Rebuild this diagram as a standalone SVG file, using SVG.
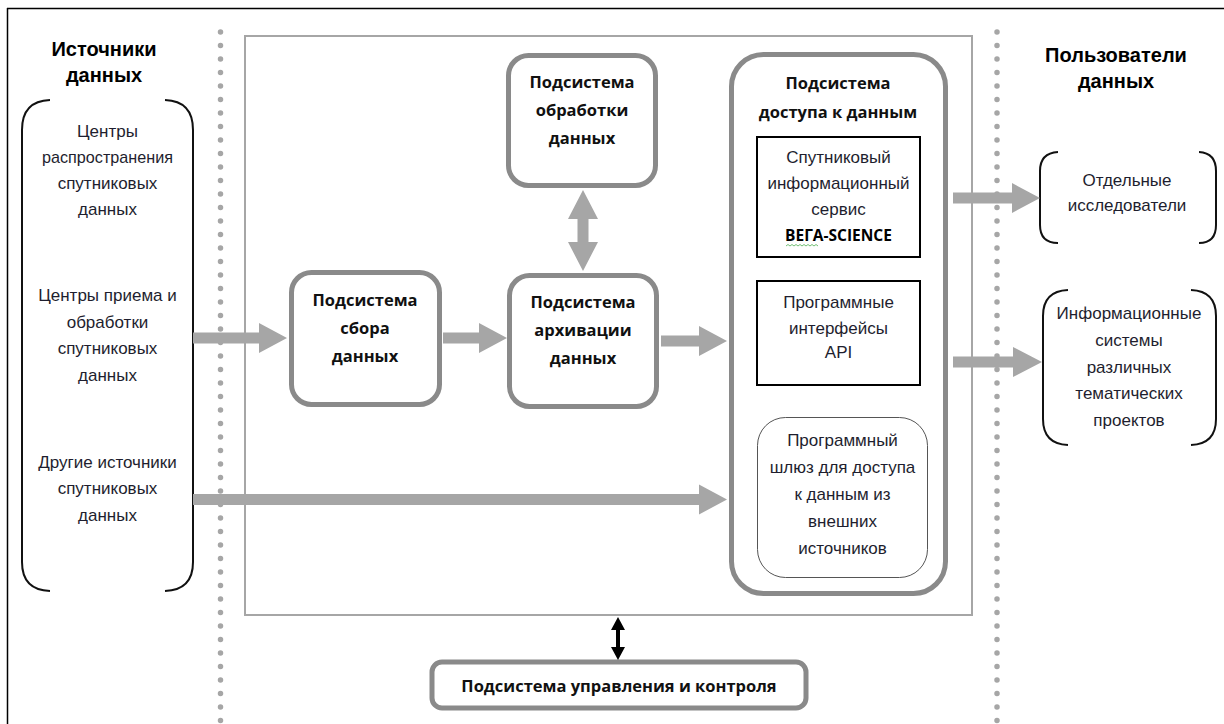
<svg xmlns="http://www.w3.org/2000/svg" width="1224" height="724" viewBox="0 0 1224 724">
<defs>
<style>
.reg{font-family:"Liberation Sans",Arial,sans-serif;font-size:17px;fill:#1e1e2e;text-anchor:middle}
.hd{font-family:"Liberation Sans",Arial,sans-serif;font-size:20px;font-weight:bold;fill:#000;text-anchor:middle}
.bx{font-family:"Open Sans","DejaVu Sans",sans-serif;font-size:16.5px;font-weight:bold;fill:#111;text-anchor:middle}
.sub{fill:#fff;stroke:#8a8a8a;stroke-width:5}
.brk{fill:none;stroke:#111;stroke-width:2}
.arr{fill:#a6a6a6}
.dot{fill:none;stroke:#a6a6a6;stroke-width:5.5;stroke-linecap:round;stroke-dasharray:0 13.5}
</style>
</defs>
<rect width="1224" height="724" fill="#fff"/>
<g id="frame">
<line x1="7.5" y1="8" x2="7.5" y2="724" stroke="#000" stroke-width="1.5"/>
<line x1="7" y1="8.5" x2="1224" y2="8.5" stroke="#000" stroke-width="1.5"/>
</g>
<g id="separators">
<line class="dot" x1="220.5" y1="32" x2="220.5" y2="724"/>
<line class="dot" x1="997" y1="32" x2="997" y2="724"/>
</g>
<g id="system-frame">
<rect x="245" y="36" width="727" height="579" fill="none" stroke="#a6a6a6" stroke-width="2"/>
</g>
<g id="sources">
<text class="hd" x="104" y="56">Источники</text>
<text class="hd" x="104" y="82">данных</text>
<path class="brk" d="M50,100 Q22,101 22,130 L22,562 Q22,590 50,591"/>
<path class="brk" d="M165,100 Q193,101 193,130 L193,562 Q193,590 165,591"/>
<text class="reg" x="107.5" y="137">Центры</text>
<text class="reg" x="107.5" y="163" textLength="131" lengthAdjust="spacingAndGlyphs">распространения</text>
<text class="reg" x="107.5" y="189">спутниковых</text>
<text class="reg" x="107.5" y="215">данных</text>
<text class="reg" x="107.5" y="301">Центры приема и</text>
<text class="reg" x="107.5" y="328">обработки</text>
<text class="reg" x="107.5" y="354">спутниковых</text>
<text class="reg" x="107.5" y="381">данных</text>
<text class="reg" x="107.5" y="468">Другие источники</text>
<text class="reg" x="107.5" y="494">спутниковых</text>
<text class="reg" x="107.5" y="521">данных</text>
</g>
<g id="processing">
<rect class="sub" x="508.5" y="55.5" width="147" height="130" rx="20"/>
<text class="bx" x="582" y="88">Подсистема</text>
<text class="bx" x="582" y="116">обработки</text>
<text class="bx" x="582" y="144">данных</text>
</g>
<g id="collection">
<rect class="sub" x="291.5" y="272.5" width="148" height="132" rx="20"/>
<text class="bx" x="365" y="306">Подсистема</text>
<text class="bx" x="365" y="334">сбора</text>
<text class="bx" x="365" y="362">данных</text>
</g>
<g id="archive">
<rect class="sub" x="509.5" y="275.5" width="147" height="131" rx="20"/>
<text class="bx" x="583" y="308">Подсистема</text>
<text class="bx" x="583" y="336">архивации</text>
<text class="bx" x="583" y="364">данных</text>
</g>
<g id="access">
<rect class="sub" x="731.5" y="54.5" width="214" height="539" rx="32"/>
<text class="bx" x="838" y="89">Подсистема</text>
<text class="bx" x="838" y="118">доступа к данным</text>
</g>
<g id="sputnik-service">
<rect x="757" y="137" width="163" height="120" fill="#fff" stroke="#000" stroke-width="2"/>
<text class="reg" x="838.5" y="163">Спутниковый</text>
<text class="reg" x="838.5" y="189">информационный</text>
<text class="reg" x="838.5" y="215">сервис</text>
<text x="838.5" y="241" font-family="'Open Sans','DejaVu Sans',sans-serif" font-size="15.5" font-weight="bold" fill="#000" text-anchor="middle">ВЕГА-SCIENCE</text>
<path d="M786,246 l2,-1.5 l2,1.5 l2,-1.5 l2,1.5 l2,-1.5 l2,1.5 l2,-1.5 l2,1.5 l2,-1.5 l2,1.5 l2,-1.5 l2,1.5 l2,-1.5 l2,1.5 l2,-1.5 l2,1.5" fill="none" stroke="#4caf50" stroke-width="0.8"/>
</g>
<g id="api">
<rect x="757" y="281" width="163" height="104" fill="#fff" stroke="#000" stroke-width="2"/>
<text class="reg" x="838.5" y="308">Программные</text>
<text class="reg" x="838.5" y="334">интерфейсы</text>
<text class="reg" x="838.5" y="358">API</text>
</g>
<g id="gateway">
<rect x="757.5" y="417.5" width="170" height="160" rx="28" fill="#fff" stroke="#555" stroke-width="1"/>
<text class="reg" x="842.5" y="446">Программный</text>
<text class="reg" x="842.5" y="473">шлюз для доступа</text>
<text class="reg" x="842.5" y="500">к данным из</text>
<text class="reg" x="842.5" y="527">внешних</text>
<text class="reg" x="842.5" y="554">источников</text>
</g>
<g id="users">
<text class="hd" x="1116" y="62">Пользователи</text>
<text class="hd" x="1116" y="88">данных</text>
</g>
<g id="researchers">
<path class="brk" d="M1058,152 Q1040,153 1040,171 L1040,225 Q1040,243 1058,243"/>
<path class="brk" d="M1199,152 Q1216,153 1216,171 L1216,225 Q1216,243 1199,243"/>
<text class="reg" x="1127" y="186">Отдельные</text>
<text class="reg" x="1127" y="211">исследователи</text>
</g>
<g id="info-systems">
<path class="brk" d="M1068,290 Q1043,291 1043,316 L1043,419 Q1043,444 1068,445"/>
<path class="brk" d="M1191,290 Q1216,291 1216,316 L1216,419 Q1216,444 1191,445"/>
<text class="reg" x="1129" y="319">Информационные</text>
<text class="reg" x="1129" y="346">системы</text>
<text class="reg" x="1129" y="373">различных</text>
<text class="reg" x="1129" y="399">тематических</text>
<text class="reg" x="1129" y="426">проектов</text>
</g>
<g id="control">
<rect class="sub" x="432" y="662" width="374" height="46" rx="10" stroke-width="4.5"/>
<text class="bx" x="619" y="692" font-size="16.2">Подсистема управления и контроля</text>
</g>
<g id="connectors">
<polygon class="arr" points="193,332.5 259,332.5 259,323 287,338 259,353 259,343.5 193,343.5"/>
<polygon class="arr" points="443,332.5 479,332.5 479,323 507,338 479,353 479,343.5 443,343.5"/>
<polygon class="arr" points="661,335.5 699,335.5 699,326 727,341 699,356 699,346.5 661,346.5"/>
<polygon class="arr" points="193,494 699,494 699,484.5 727,499.5 699,514.5 699,505 193,505"/>
<polygon class="arr" points="583,190 598,219 588.5,219 588.5,242 598,242 583,271 568,242 577.5,242 577.5,219 568,219"/>
<polygon class="arr" points="953,192.5 1012,192.5 1012,183 1040,198 1012,213 1012,203.5 953,203.5"/>
<polygon class="arr" points="953,356.5 1013,356.5 1013,347 1042,362 1013,377 1013,367.5 953,367.5"/>
<polygon fill="#000" points="618,617 625,630 620,630 620,647 625,647 618,660 611,647 616,647 616,630 611,630"/>
</g>
</svg>
